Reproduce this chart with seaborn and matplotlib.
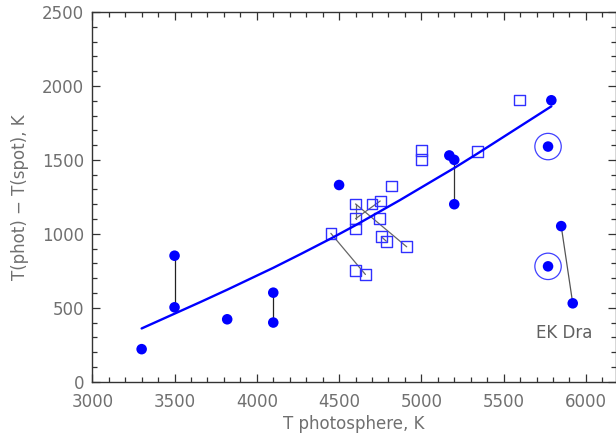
import matplotlib
matplotlib.use("Agg")
import matplotlib.pyplot as plt
from matplotlib.ticker import MultipleLocator, AutoMinorLocator
import seaborn as sns
import pandas as pd

# ---- data ----
circle_x = [3300, 3500, 3500, 3820, 4100, 4100, 4500, 5170, 5200, 5200, 5790, 5770, 5770, 5850, 5920]
circle_y = [220, 852, 503, 422, 602, 400, 1330, 1530, 1500, 1200, 1903, 1590, 780, 1052, 530]

square_x = [4450, 4600, 4600, 4600, 4600, 4660, 4700, 4750, 4745, 4757, 4787, 4818, 4911, 5000, 5000, 5340, 5595]
square_y = [1003, 1202, 1102, 1033, 752, 725, 1202, 1222, 1105, 980, 950, 1323, 912, 1562, 1503, 1555, 1905]

ring_x = [5770, 5770]
ring_y = [1590, 780]

fit_x = [3300, 3500, 3660, 3820, 4100, 4270, 4450, 4600, 4870, 5110, 5200, 5340, 5790]
fit_y = [360, 460, 540, 622, 770, 865, 968, 1058, 1228, 1386, 1445, 1542, 1862]

link_x1 = [3500, 4100, 5200, 5850, 4450, 4600, 4600, 4600, 4757]
link_y1 = [852, 602, 1500, 1052, 1003, 1202, 1202, 1102, 980]
link_x2 = [3500, 4100, 5200, 5920, 4660, 4911, 4600, 4750, 4787]
link_y2 = [503, 400, 1200, 530, 725, 912, 1102, 1222, 950]
link_col = ["#222222", "#222222", "#333333", "#555555", "#666666", "#666666", "#666666", "#666666", "#666666"]

label_text = "EK Dra"
label_x, label_y = 5870, 330

x_label = "T photosphere, K"
y_label = "T(phot) \u2212 T(spot), K"

# ---- plotting ----
sns.set_style("ticks")
plt.rcParams["font.family"] = ["DejaVu Sans"]

fig = plt.figure(figsize=(6.16, 4.33), dpi=100)
ax = fig.add_axes([0.1498, 0.1185, 0.8494, 0.8538])

for x1, y1, x2, y2, c in zip(link_x1, link_y1, link_x2, link_y2, link_col):
    ax.plot([x1, x2], [y1, y2], color=c, lw=0.9, zorder=2)

df_sq = pd.DataFrame({"x": square_x, "y": square_y})
sns.scatterplot(data=df_sq, x="x", y="y", ax=ax, marker="s", s=7.7 ** 2,
                facecolor="none", edgecolor="#3030ff", linewidth=1.0, zorder=3)

df_fit = pd.DataFrame({"x": fit_x, "y": fit_y})
sns.lineplot(data=df_fit, x="x", y="y", ax=ax, color="#0000ff", lw=1.7,
             sort=False, zorder=4)

df_c = pd.DataFrame({"x": circle_x, "y": circle_y})
sns.scatterplot(data=df_c, x="x", y="y", ax=ax, marker="o", s=7.6 ** 2,
                color="#0000ff", edgecolor="none", linewidth=0, zorder=5)

df_r = pd.DataFrame({"x": ring_x, "y": ring_y})
sns.scatterplot(data=df_r, x="x", y="y", ax=ax, marker="o", s=19.0 ** 2,
                facecolor="none", edgecolor="#4040ff", linewidth=0.9, zorder=5)

ax.text(label_x, label_y, label_text, ha="center", va="center",
        fontsize=12, color="#606060")

ax.set_xlim(3000, 6180)
ax.set_ylim(0, 2500)
ax.xaxis.set_major_locator(MultipleLocator(500))
ax.yaxis.set_major_locator(MultipleLocator(500))
ax.xaxis.set_minor_locator(AutoMinorLocator(5))
ax.yaxis.set_minor_locator(AutoMinorLocator(5))

ax.tick_params(which="both", direction="in", top=True, right=True,
               color="#333333", width=0.9, labelsize=12, labelcolor="#707070")
ax.tick_params(which="major", length=6)
ax.tick_params(which="minor", length=3.5)
ax.tick_params(axis="x", which="major", pad=8)
ax.tick_params(axis="y", which="major", pad=6)

for s in ax.spines.values():
    s.set_color("#333333")
    s.set_linewidth(1.0)
    s.set_visible(True)

ax.set_xlabel(x_label, fontsize=12, color="#707070", labelpad=3)
ax.set_ylabel(y_label, fontsize=12, color="#707070", labelpad=9)

fig.savefig("out.png", dpi=100)
